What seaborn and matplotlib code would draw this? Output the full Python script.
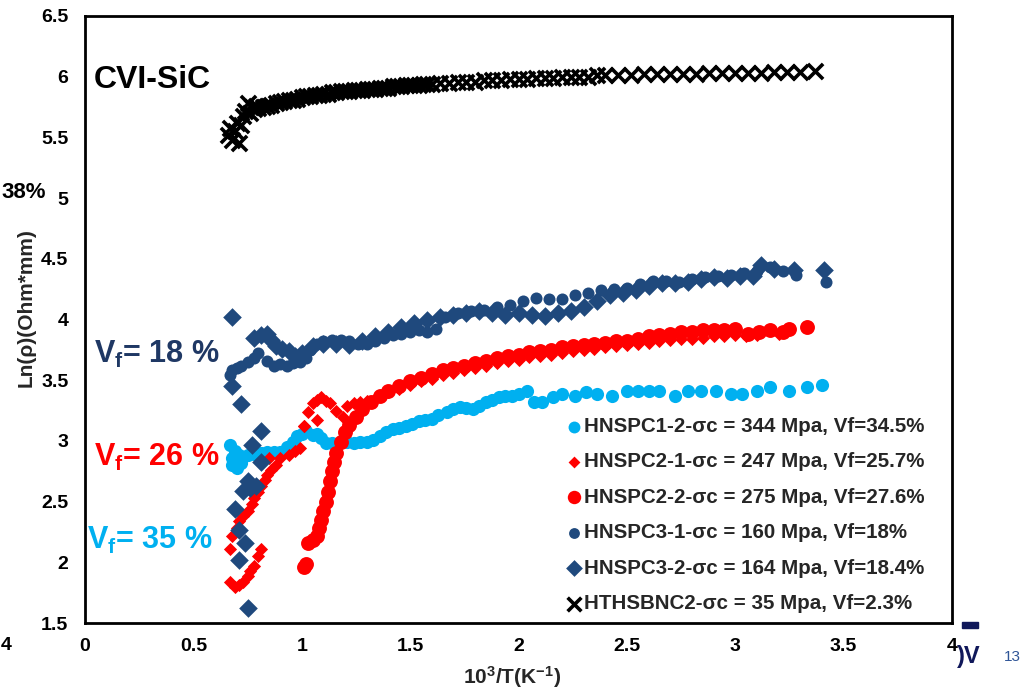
import matplotlib
matplotlib.use("Agg")
import matplotlib.pyplot as plt
import seaborn as sns
import pandas as pd
from matplotlib.patches import Rectangle

# ---------------- data ----------------
# HNSPC1-2 (light blue circles)
s1_x = [0.67, 0.68, 0.68, 0.69, 0.70, 0.70, 0.71, 0.72, 0.73, 0.75, 0.78, 0.81, 0.84, 0.87, 0.90,
        0.93, 0.96, 0.98, 1.00, 1.02, 1.05, 1.07, 1.09, 1.11, 1.14, 1.18, 1.21, 1.24, 1.27, 1.30,
        1.33, 1.36, 1.39, 1.42, 1.45, 1.48, 1.51, 1.54, 1.57, 1.60, 1.63, 1.67, 1.70, 1.73, 1.76,
        1.79, 1.82, 1.85, 1.88, 1.91, 1.94, 1.97, 2.00, 2.04, 2.07, 2.11, 2.16, 2.20, 2.26, 2.31,
        2.36, 2.43, 2.50, 2.55, 2.60, 2.65, 2.72, 2.78, 2.84, 2.91, 2.98, 3.03, 3.10, 3.16, 3.25,
        3.33, 3.40]
s1_y = [2.97, 2.86, 2.80, 2.92, 2.84, 2.78, 2.88, 2.82, 2.87, 2.88, 2.89, 2.90, 2.91, 2.91, 2.91,
        2.95, 2.99, 3.04, 3.06, 3.08, 3.05, 3.06, 3.02, 2.98, 2.98, 2.99, 2.99, 2.98, 2.99, 2.99,
        3.01, 3.04, 3.07, 3.10, 3.11, 3.12, 3.14, 3.16, 3.17, 3.18, 3.21, 3.24, 3.26, 3.28, 3.27,
        3.26, 3.29, 3.32, 3.34, 3.36, 3.37, 3.37, 3.39, 3.41, 3.32, 3.32, 3.36, 3.39, 3.37, 3.40,
        3.39, 3.37, 3.41, 3.41, 3.41, 3.41, 3.37, 3.41, 3.41, 3.41, 3.39, 3.39, 3.41, 3.44, 3.41,
        3.44, 3.46]

# HNSPC2-1 (red small diamonds)
s2_x = [0.67, 0.69, 0.71, 0.73, 0.75, 0.76, 0.78, 0.80, 0.81,
        0.67, 0.68, 0.70, 0.71, 0.73, 0.75, 0.77, 0.78, 0.80, 0.81, 0.83, 0.84, 0.86, 0.88,
        0.85, 0.90, 0.94, 0.97, 0.99, 1.01, 1.03, 1.05, 1.07, 1.09, 1.11, 1.13, 1.16, 1.19,
        1.07, 1.01, 1.21, 1.24, 1.27, 1.30, 1.35, 1.40, 1.45, 1.50, 1.55, 1.60, 1.65, 1.70,
        1.75, 1.80, 1.85, 1.90, 1.95, 2.00, 2.05, 2.10, 2.15, 2.20, 2.25, 2.30, 2.35, 2.40,
        2.45, 2.50, 2.55, 2.60, 2.65, 2.70, 2.75, 2.80, 2.85, 2.90, 2.95, 3.00, 3.05, 3.10,
        3.20]
s2_y = [1.84, 1.80, 1.81, 1.84, 1.89, 1.93, 1.97, 2.05, 2.11,
        2.11, 2.22, 2.28, 2.34, 2.38, 2.42, 2.48, 2.53, 2.58, 2.63, 2.68, 2.72, 2.76, 2.80,
        2.86, 2.86, 2.88, 2.92, 2.94, 3.12, 3.24, 3.31, 3.34, 3.36, 3.33, 3.31, 3.25, 3.20,
        3.17, 3.12, 3.29, 3.31, 3.32, 3.33, 3.37, 3.40, 3.43, 3.46, 3.49, 3.51, 3.54, 3.56,
        3.58, 3.60, 3.62, 3.64, 3.66, 3.67, 3.69, 3.70, 3.71, 3.72, 3.74, 3.75, 3.76, 3.77,
        3.78, 3.79, 3.80, 3.81, 3.82, 3.83, 3.84, 3.84, 3.85, 3.86, 3.86, 3.87, 3.86, 3.87,
        3.88]

# HNSPC2-2 (red large circles)
s3_x = [1.01, 1.02, 1.03, 1.05, 1.07, 1.08, 1.09, 1.10, 1.11, 1.12, 1.13, 1.14, 1.15, 1.16,
        1.18, 1.20, 1.22, 1.25, 1.28, 1.32, 1.36, 1.40, 1.45, 1.50, 1.55, 1.60, 1.65, 1.70,
        1.75, 1.80, 1.85, 1.90, 1.95, 2.00, 2.05, 2.10, 2.15, 2.20, 2.25, 2.30, 2.35, 2.40,
        2.45, 2.50, 2.55, 2.60, 2.65, 2.70, 2.75, 2.80, 2.85, 2.90, 2.95, 3.00, 3.06, 3.11,
        3.16, 3.22, 3.25, 3.33]
s3_y = [1.96, 1.99, 2.16, 2.18, 2.22, 2.28, 2.35, 2.42, 2.50, 2.58, 2.67, 2.75, 2.83, 2.90,
        2.99, 3.07, 3.13, 3.20, 3.26, 3.32, 3.37, 3.41, 3.45, 3.49, 3.52, 3.55, 3.58, 3.60,
        3.62, 3.64, 3.66, 3.68, 3.70, 3.71, 3.73, 3.74, 3.75, 3.77, 3.78, 3.79, 3.80, 3.81,
        3.82, 3.82, 3.84, 3.86, 3.87, 3.88, 3.90, 3.90, 3.91, 3.91, 3.91, 3.92, 3.88, 3.90,
        3.91, 3.90, 3.92, 3.94]

# HNSPC3-1 (navy circles)
s4_x = [0.67, 0.68, 0.70, 0.72, 0.75, 0.78, 0.80, 0.84, 0.87, 0.90, 0.93, 0.96, 0.99, 1.02,
        1.04, 1.07, 1.10, 1.14, 1.18, 1.22, 1.26, 1.30, 1.34, 1.38, 1.42, 1.46, 1.50, 1.54,
        1.58, 1.62, 1.66, 1.72, 1.78, 1.84, 1.90, 1.96, 2.02, 2.08, 2.14, 2.20, 2.26, 2.32,
        2.38, 2.44, 2.50, 2.56, 2.62, 2.68, 2.74, 2.80, 2.86, 2.92, 2.98, 3.04, 3.10, 3.16,
        3.22, 3.28, 3.42]
s4_y = [3.54, 3.58, 3.60, 3.62, 3.65, 3.68, 3.72, 3.66, 3.62, 3.63, 3.62, 3.64, 3.65, 3.68,
        3.75, 3.80, 3.82, 3.83, 3.83, 3.82, 3.80, 3.80, 3.82, 3.85, 3.87, 3.88, 3.90, 3.91,
        3.90, 3.92, 4.02, 4.05, 4.07, 4.08, 4.10, 4.12, 4.15, 4.18, 4.17, 4.17, 4.20, 4.22,
        4.24, 4.25, 4.26, 4.29, 4.32, 4.32, 4.31, 4.33, 4.35, 4.36, 4.37, 4.38, 4.40, 4.43,
        4.40, 4.37, 4.31]

# HNSPC3-2 (navy large diamonds)
s5_x = [0.68, 0.68, 0.72, 0.81, 0.77, 0.81, 0.79, 0.76, 0.75, 0.73, 0.69, 0.71, 0.74, 0.71,
        0.75, 0.78, 0.81, 0.84, 0.86, 0.88, 0.91, 0.94, 0.97, 1.00, 1.05, 1.10, 1.16, 1.22,
        1.28, 1.34, 1.40, 1.46, 1.52, 1.58, 1.64, 1.70, 1.76, 1.82, 1.88, 1.94, 2.00, 2.06,
        2.12, 2.18, 2.24, 2.30, 2.36, 2.42, 2.48, 2.54, 2.60, 2.66, 2.72, 2.78, 2.84, 2.90,
        2.96, 3.02, 3.08, 3.12, 3.18, 3.27, 3.41]
s5_y = [4.02, 3.45, 3.30, 3.08, 2.97, 2.83, 2.63, 2.61, 2.67, 2.59, 2.44, 2.27, 2.16, 2.02,
        1.62, 3.85, 3.87, 3.88, 3.83, 3.78, 3.76, 3.74, 3.70, 3.72, 3.78, 3.80, 3.80, 3.79,
        3.82, 3.86, 3.90, 3.94, 3.97, 4.00, 4.02, 4.04, 4.05, 4.07, 4.05, 4.04, 4.05, 4.04,
        4.03, 4.05, 4.07, 4.10, 4.15, 4.20, 4.22, 4.24, 4.28, 4.30, 4.30, 4.31, 4.33, 4.35,
        4.34, 4.36, 4.36, 4.45, 4.42, 4.41, 4.41]

# HTHSBNC2 (black x)
s6_x = [0.66, 0.67, 0.68, 0.69, 0.70, 0.71, 0.72, 0.73, 0.74, 0.75, 0.76, 0.77, 0.78, 0.79, 0.80,
        0.82, 0.84, 0.86, 0.88, 0.90, 0.92, 0.94, 0.96, 0.98, 1.00,
        1.02, 1.04, 1.06, 1.08, 1.10, 1.12, 1.14, 1.16, 1.18, 1.20,
        1.22, 1.24, 1.26, 1.28, 1.30, 1.32, 1.34, 1.36, 1.38, 1.40,
        1.42, 1.44, 1.46, 1.48, 1.50, 1.52, 1.54, 1.56, 1.58, 1.60,
        1.64, 1.68, 1.72, 1.76, 1.80, 1.84, 1.88, 1.92, 1.96, 2.00,
        2.04, 2.08, 2.12, 2.16, 2.20, 2.24, 2.28, 2.32, 2.36, 2.40,
        2.46, 2.52, 2.58, 2.64, 2.70, 2.76, 2.82, 2.88, 2.94, 3.00,
        3.06, 3.12, 3.18, 3.24, 3.30, 3.37]
s6_y = [5.52, 5.58, 5.48, 5.55, 5.62, 5.45, 5.60, 5.68, 5.72, 5.78, 5.70, 5.75, 5.73, 5.76, 5.74,
        5.75, 5.76, 5.77, 5.78, 5.79, 5.80, 5.81, 5.81, 5.82, 5.83,
        5.84, 5.84, 5.85, 5.85, 5.86, 5.86, 5.87, 5.87, 5.88, 5.88,
        5.88, 5.89, 5.89, 5.89, 5.90, 5.90, 5.90, 5.91, 5.91, 5.91,
        5.92, 5.92, 5.92, 5.93, 5.93, 5.93, 5.93, 5.94, 5.94, 5.94,
        5.95, 5.95, 5.96, 5.96, 5.96, 5.97, 5.97, 5.97, 5.98, 5.98,
        5.98, 5.99, 5.99, 5.99, 6.00, 6.00, 6.00, 6.00, 6.01, 6.01,
        6.01, 6.01, 6.02, 6.02, 6.02, 6.02, 6.02, 6.03, 6.03, 6.03,
        6.03, 6.03, 6.04, 6.04, 6.04, 6.05]

series_labels = [
    "HNSPC1-2-σc = 344 Mpa, Vf=34.5%",
    "HNSPC2-1-σc = 247 Mpa, Vf=25.7%",
    "HNSPC2-2-σc = 275 Mpa, Vf=27.6%",
    "HNSPC3-1-σc = 160 Mpa, Vf=18%",
    "HNSPC3-2-σc = 164 Mpa, Vf=18.4%",
    "HTHSBNC2-σc = 35 Mpa, Vf=2.3%",
]
x_ticks = [0, 0.5, 1, 1.5, 2, 2.5, 3, 3.5, 4]
x_tick_labels = ["0", "0.5", "1", "1.5", "2", "2.5", "3", "3.5", "4"]
y_ticks = [1.5, 2, 2.5, 3, 3.5, 4, 4.5, 5, 5.5, 6, 6.5]
y_tick_labels = ["1.5", "2", "2.5", "3", "3.5", "4", "4.5", "5", "5.5", "6", "6.5"]

# ---------------- style ----------------
sns.set_theme(style="white")
plt.rcParams["font.family"] = ["Liberation Sans", "DejaVu Sans"]
plt.rcParams["font.weight"] = "bold"
plt.rcParams["mathtext.default"] = "regular"

LBLUE = "#00B0F0"
RED = "#FF0000"
NAVY = "#1F497D"
DNAVY = "#1F3864"

fig = plt.figure(figsize=(10.24, 6.92), dpi=100)
fig.patch.set_facecolor("white")
ax = fig.add_axes([85 / 1024, 1 - 623 / 692, 867 / 1024, 607 / 692])

styles = [
    (s1_x, s1_y, LBLUE, "o", 90),
    (s2_x, s2_y, RED, "D", 45),
    (s3_x, s3_y, RED, "o", 115),
    (s4_x, s4_y, NAVY, "o", 75),
    (s5_x, s5_y, NAVY, "D", 90),
]
for (xs, ys, col, mk, sz), lab in zip(styles, series_labels[:5]):
    df = pd.DataFrame({"x": xs, "y": ys})
    sns.scatterplot(data=df, x="x", y="y", color=col, marker=mk, s=sz,
                    linewidth=0, label=lab, ax=ax, zorder=3)
df6 = pd.DataFrame({"x": s6_x, "y": s6_y})
sns.scatterplot(data=df6, x="x", y="y", color="black", marker="x", s=120,
                linewidth=2.6, label=series_labels[5], ax=ax, zorder=3)

ax.set_xlim(0, 4)
ax.set_ylim(1.5, 6.5)
ax.set_xticks(x_ticks)
ax.set_xticklabels(x_tick_labels)
ax.set_yticks(y_ticks)
ax.set_yticklabels(y_tick_labels)
ax.tick_params(axis="both", length=0, labelsize=14, colors="black")
ax.tick_params(axis="y", pad=12)
ax.tick_params(axis="x", pad=11)
for lab in ax.get_xticklabels() + ax.get_yticklabels():
    lab.set_fontweight("bold")
for sp in ax.spines.values():
    sp.set_visible(True)
    sp.set_color("black")
    sp.set_linewidth(2.0)

ax.set_xlabel("10$^\\mathregular{3}$/T(K$^\\mathregular{-1}$)", fontsize=15, fontweight="bold")
ax.set_ylabel("Ln(ρ)(Ohm*mm)", fontsize=15, fontweight="bold")
ax.xaxis.set_label_coords((512 - 85) / 867, (623 - 664) / 607)
ax.yaxis.set_label_coords((36 - 85) / 867, 0.52)

leg = ax.legend(loc="upper left", bbox_to_anchor=((566 - 85) / 867, (623 - 417) / 607),
                frameon=False, fontsize=14.8, handlelength=0.75, handletextpad=0.15,
                labelspacing=0.80, borderpad=0, borderaxespad=0, markerscale=0.9)
for t in leg.get_texts():
    t.set_fontweight("bold")

# annotations
ax.text(0.04, 5.97, "CVI-SiC", fontsize=23, fontweight="bold", color="black",
        va="center", ha="left")
ax.text(0.04, 3.71, "V$_\\mathregular{f}$= 18 %", fontsize=22, fontweight="bold",
        color=DNAVY, va="center", ha="left")
ax.text(0.04, 2.86, "V$_\\mathregular{f}$= 26 %", fontsize=22, fontweight="bold",
        color=RED, va="center", ha="left")
ax.text(0.01, 2.18, "V$_\\mathregular{f}$= 35 %", fontsize=22, fontweight="bold",
        color=LBLUE, va="center", ha="left")

# slide remnants around the chart
fig.text(1 / 1024, 1 - 192 / 692, "38%", fontsize=16, fontweight="bold", color="black",
         va="center", ha="left")
fig.text(1 / 1024, 1 - 645 / 692, "4", fontsize=14, fontweight="bold", color="black",
         va="center", ha="left")
fig.add_artist(Rectangle((962 / 1024, 1 - 628 / 692), 16 / 1024, 6 / 692,
                         transform=fig.transFigure, color="#10185A"))
fig.text(957 / 1024, 1 - 657 / 692, ")V", fontsize=17, color="#10185A",
         va="center", ha="left")
fig.text(1004 / 1024, 1 - 657 / 692, "13", fontsize=11, color="#2F5597",
         va="center", ha="left", fontweight="normal")

fig.savefig("out.png", dpi=100, facecolor="white")
